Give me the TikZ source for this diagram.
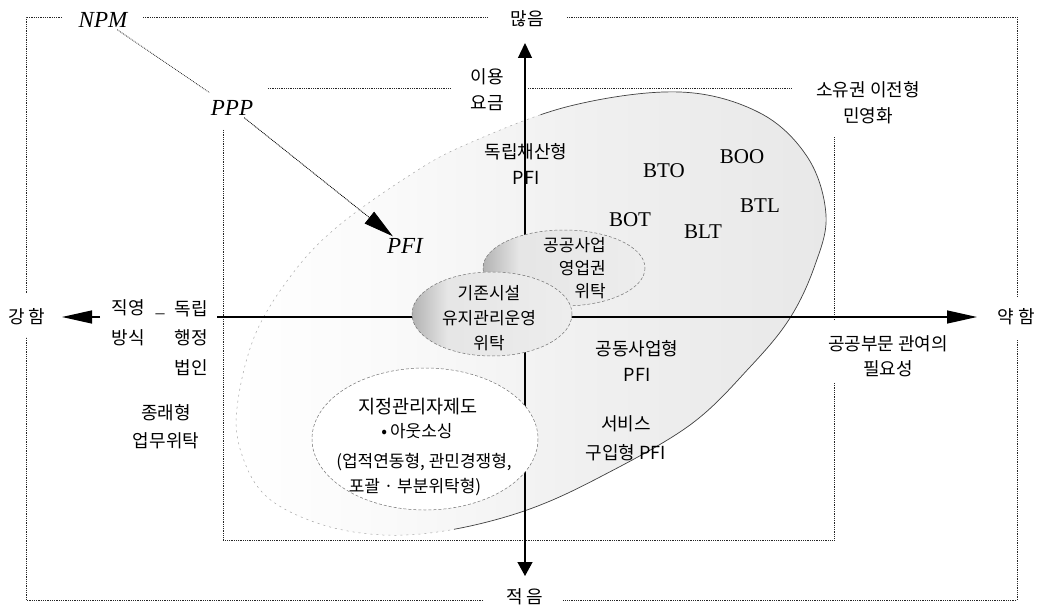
\documentclass[tikz,border=0pt]{standalone}
\usepackage{fontspec}
\setmainfont{Liberation Serif}
\newfontfamily\kr{Noto Sans CJK KR}
\usetikzlibrary{arrows.meta}
\pgfdeclarehorizontalshading{blobshade}{100bp}{color(0bp)=(white); color(25bp)=(white); color(38bp)=(black!2); color(55bp)=(black!6); color(75bp)=(black!9); color(100bp)=(black!9)}
\pgfdeclarehorizontalshading{ellshade}{100bp}{color(0bp)=(black!30); color(25bp)=(black!30); color(36bp)=(black!10); color(75bp)=(black!7); color(100bp)=(black!7)}
\begin{document}
\begin{tikzpicture}[x=1pt,y=-1pt,
  frame/.style={densely dotted, line width=0.8pt, draw=black!85},
  kt/.style={font=\kr\fontsize{18}{26}\selectfont, align=center, inner sep=0pt},
  ks/.style={font=\kr\fontsize{17}{24}\selectfont, align=center, inner sep=0pt},
  lt/.style={font=\fontsize{21}{24}\selectfont, inner sep=0pt},
  it/.style={font=\itshape\fontsize{23}{25}\selectfont, inner sep=2pt},
  axisline/.style={line width=1.3pt, draw=black},
  harrow/.style={-{Triangle[length=30pt,width=13pt]}},
  elldash/.style={dash pattern=on 3pt off 2pt, line width=0.5pt, draw=black!55},
]
\useasboundingbox (0,0) rectangle (1041,607);
\fill[white] (0,0) rectangle (1041,607);

% outer frame
\draw[frame] (62,17) -- (26,17) -- (26,293);
\draw[frame] (143,17) -- (487,17);
\draw[frame] (567,17) -- (1017,17) -- (1017,297);
\draw[frame] (1017,340) -- (1017,600) -- (563,600);
\draw[frame] (483,600) -- (26,600) -- (26,337);

% inner frame
\draw[frame] (268,88) -- (450,88);
\draw[frame] (528,88) -- (792,88);
\draw[frame] (223,130) -- (223,540) -- (834,540) -- (834,383);
\draw[frame] (834,320) -- (834,137);

% big region
\shade[shading=blobshade]
  plot[smooth cycle, tension=0.6] coordinates {(680,92) (760,113) (808,158) (826,215) (815,265) (790,318) (750,367) (690,425) (600,477) (527,510) (450,530) (383,535) (320,524) (267,497) (242,455) (237,408) (255,335) (293,273) (337,227) (407,177) (465,145) (570,106)};
\begin{scope}
  \clip (560,0) -- (1041,0) -- (1041,607) -- (420,607) -- (480,470) -- cycle;
  \draw[line width=0.7pt, black!75]
  plot[smooth cycle, tension=0.6] coordinates {(680,92) (760,113) (808,158) (826,215) (815,265) (790,318) (750,367) (690,425) (600,477) (527,510) (450,530) (383,535) (320,524) (267,497) (242,455) (237,408) (255,335) (293,273) (337,227) (407,177) (465,145) (570,106)};
\end{scope}
\begin{scope}
  \clip (0,0) -- (560,0) -- (480,470) -- (420,607) -- (0,607) -- cycle;
  \draw[dash pattern=on 2pt off 4pt, line width=0.5pt, black!35]
  plot[smooth cycle, tension=0.6] coordinates {(680,92) (760,113) (808,158) (826,215) (815,265) (790,318) (750,367) (690,425) (600,477) (527,510) (450,530) (383,535) (320,524) (267,497) (242,455) (237,408) (255,335) (293,273) (337,227) (407,177) (465,145) (570,106)};
\end{scope}

% axes
\coordinate (hl0) at (100,317);
\coordinate (hltip) at (62,317);
\coordinate (hr0) at (217,317);
\coordinate (hrtip) at (977,317);
\coordinate (vb) at (525,576);
\coordinate (vt) at (525,43);
\draw[axisline, harrow] (hl0) -- (hltip);
\draw[axisline, harrow] (hr0) -- (hrtip);
\draw[axisline, {Triangle[length=14pt,width=15pt]}-{Triangle[length=15pt,width=14pt]}] (vb) -- (vt);

% inner ellipses
\shade[shading=ellshade] (564,268) ellipse [x radius=81, y radius=38];
\draw[elldash] (564,268) ellipse [x radius=81, y radius=38];
\shade[shading=ellshade] (492,314) ellipse [x radius=80, y radius=42];
\draw[elldash] (492,314) ellipse [x radius=80, y radius=42];
\fill[white] (425,439) ellipse [x radius=113, y radius=71];
\draw[elldash] (425,439) ellipse [x radius=113, y radius=71];

% labels
\node[it] (NPM) at (103,20) {NPM};
\node[it] (PPP) at (232,108) {PPP};
\node[it] (PFI) at (405,246) {PFI};
\draw[densely dotted, line width=0.8pt, draw=black!85, shorten >=10pt] (NPM) -- (PPP);
\draw[densely dotted, line width=0.8pt, draw=black, fill=black, -{Triangle[length=30pt,width=15pt]}] (PPP) -- (PFI);

\node[kt] (many) at (527,19) {많음};
\node[kt] (few) at (525,597) {적\hspace{3pt}음};
\node[kt] (strong) at (27,317) {강\hspace{4pt}함};
\node[kt] (weak) at (1016,317) {약\hspace{4pt}함};
\node[kt] (fee) at (487,90) {이용\\요금};
\node[kt] (indep) at (526,164) {독립채산형\\PFI};
\node[kt] (own) at (868,103) {소유권 이전형\\민영화};

\node[lt] (BTO) at (664,171) {BTO};
\node[lt] (BOO) at (742,157) {BOO};
\node[lt] (BTL) at (760,206) {BTL};
\node[lt] (BOT) at (630,220) {BOT};
\node[lt] (BLT) at (703,232) {BLT};

\node[ks, align=right, anchor=east, font=\kr\fontsize{17}{23}\selectfont] (conc) at (606,268) {공공사업\\영업권\\위탁};
\node[ks, font=\kr\fontsize{17}{25}\selectfont] (exist) at (489,318) {기존시설\\유지관리운영\\위탁};

\node[kt, font=\kr\fontsize{18}{30}\selectfont] (direct) at (128,323) {직영\\방식};
\node[font=\fontsize{18}{20}\selectfont, inner sep=0pt] (dash) at (160,316) {–};
\node[kt, font=\kr\fontsize{18}{29.5}\selectfont] (agency) at (191,338) {독립\\행정\\법인};
\node[kt, font=\kr\fontsize{18}{28}\selectfont] (trad) at (166,427) {종래형\\업무위탁};

\node[kt, font=\kr\fontsize{18}{25}\selectfont] (need) at (888,356) {공공부문 관여의\\필요성};
\node[kt] (joint) at (637,361) {공동사업형\\PFI};
\node[kt, font=\kr\fontsize{18}{29}\selectfont] (service) at (626,438) {서비스\\구입형 PFI};

\node[kt, font=\kr\fontsize{18.5}{20}\selectfont] (d1) at (418,407) {지정관리자제도};
\node[ks] (d2) at (417,431) {•\,아웃소싱};
\node[ks] (d3) at (424,462) {(업적연동형, 관민경쟁형,};
\node[ks] (d4) at (415,487) {포괄 · 부분위탁형)};
\end{tikzpicture}
\end{document}
